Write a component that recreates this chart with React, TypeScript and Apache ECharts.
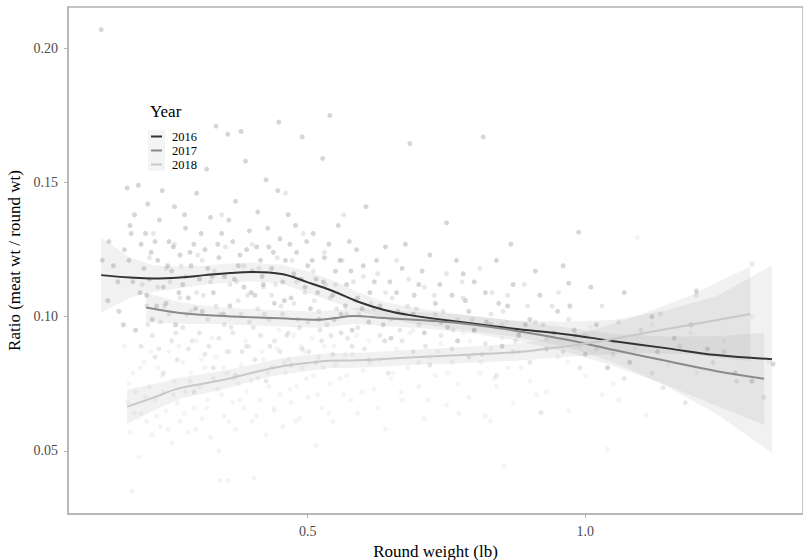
import React, { useEffect, useRef } from "react";
import * as echarts from "echarts";

const years = ["2016", "2017", "2018"];
const lineColors = ["#333333", "#8a8a8a", "#c8c8c8"];
const yTicks = [0.05, 0.1, 0.15, 0.2];
const xTicks = [0.5, 1.0];

// scatter points [round weight, ratio]
const pts2016 = [[0.128,0.207],[0.13,0.121],[0.14,0.106],[0.15,0.119],[0.16,0.102],[0.17,0.125],[0.175,0.148],[0.18,0.134],[0.182,0.131],[0.185,0.113],[0.19,0.095],[0.195,0.149],[0.2,0.127],[0.205,0.118],[0.21,0.108],[0.212,0.142],[0.215,0.114],[0.22,0.099],[0.225,0.128],[0.23,0.121],[0.233,0.136],[0.24,0.111],[0.245,0.105],[0.25,0.128],[0.255,0.117],[0.26,0.141],[0.262,0.097],[0.27,0.123],[0.275,0.112],[0.28,0.133],[0.285,0.107],[0.29,0.119],[0.295,0.127],[0.3,0.146],[0.305,0.114],[0.31,0.102],[0.315,0.125],[0.32,0.118],[0.325,0.137],[0.33,0.109],[0.335,0.171],[0.34,0.122],[0.345,0.131],[0.35,0.115],[0.356,0.168],[0.36,0.104],[0.365,0.128],[0.37,0.143],[0.375,0.119],[0.38,0.169],[0.385,0.111],[0.39,0.125],[0.395,0.132],[0.4,0.117],[0.405,0.108],[0.41,0.139],[0.415,0.121],[0.42,0.112],[0.425,0.151],[0.43,0.126],[0.435,0.118],[0.44,0.105],[0.448,0.1725],[0.45,0.129],[0.455,0.113],[0.46,0.121],[0.465,0.138],[0.47,0.107],[0.475,0.116],[0.48,0.124],[0.49,0.167],[0.495,0.111],[0.5,0.119],[0.505,0.103],[0.51,0.131],[0.515,0.114],[0.52,0.099],[0.527,0.159],[0.53,0.122],[0.54,0.175],[0.545,0.108],[0.55,0.117],[0.555,0.134],[0.56,0.101],[0.57,0.112],[0.575,0.128],[0.58,0.095],[0.59,0.107],[0.6,0.119],[0.605,0.141],[0.61,0.098],[0.62,0.113],[0.63,0.104],[0.64,0.126],[0.65,0.092],[0.66,0.109],[0.67,0.118],[0.684,0.1645],[0.69,0.101],[0.7,0.112],[0.71,0.094],[0.72,0.123],[0.73,0.105],[0.74,0.098],[0.75,0.135],[0.76,0.108],[0.77,0.091],[0.78,0.116],[0.79,0.102],[0.8,0.095],[0.816,0.167],[0.82,0.109],[0.83,0.097],[0.84,0.121],[0.85,0.089],[0.86,0.104],[0.87,0.112],[0.88,0.093],[0.9,0.099],[0.91,0.117],[0.93,0.088],[0.95,0.102],[0.96,0.119],[0.97,0.1125],[0.98,0.095],[0.988,0.1315],[1.0,0.086],[1.02,0.097],[1.05,0.091],[1.08,0.083],[1.12,0.1],[1.16,0.092],[1.2,0.1096],[1.22,0.088],[1.27,0.079],[1.338,0.0824],
[0.142,0.128],[0.158,0.113],[0.168,0.097],[0.178,0.121],[0.188,0.138],[0.198,0.109],[0.208,0.131],[0.218,0.124],[0.228,0.104],[0.238,0.147],[0.248,0.119],[0.258,0.126],[0.268,0.109],[0.278,0.138],[0.288,0.124],[0.298,0.103],[0.308,0.131],[0.318,0.155],[0.328,0.115],[0.338,0.127],[0.348,0.101],[0.358,0.136],[0.368,0.114],[0.378,0.123],[0.388,0.158],[0.398,0.109],[0.408,0.126],[0.418,0.115],[0.428,0.133],[0.438,0.124],[0.446,0.147],[0.458,0.106],[0.468,0.127],[0.478,0.134],[0.488,0.114],[0.498,0.128],[0.508,0.121],[0.518,0.109],[0.528,0.113],[0.538,0.127],[0.548,0.099],[0.558,0.121],[0.568,0.104],[0.578,0.117],[0.588,0.125],[0.598,0.103],[0.612,0.109],[0.624,0.121],[0.636,0.097],[0.648,0.113],[0.662,0.102],[0.676,0.127],[0.692,0.108],[0.706,0.117],[0.722,0.099],[0.738,0.112],[0.752,0.096],[0.768,0.121],[0.784,0.106],[0.8,0.113],[0.822,0.098],[0.844,0.105],[0.866,0.127],[0.892,0.097],[0.918,0.108],[0.944,0.094],[0.972,0.104],[1.01,0.111],[1.04,0.081],[1.07,0.109],[1.13,0.087],[1.19,0.097],[1.3,0.076]];
const pts2017 = [[0.2,0.089],[0.21,0.104],[0.215,0.122],[0.22,0.093],[0.225,0.085],[0.23,0.111],[0.235,0.098],[0.24,0.079],[0.245,0.118],[0.25,0.101],[0.255,0.091],[0.26,0.127],[0.265,0.084],[0.27,0.107],[0.275,0.096],[0.28,0.115],[0.285,0.088],[0.29,0.102],[0.295,0.072],[0.3,0.109],[0.305,0.094],[0.31,0.121],[0.315,0.086],[0.32,0.099],[0.325,0.113],[0.33,0.081],[0.335,0.104],[0.34,0.092],[0.345,0.138],[0.35,0.097],[0.355,0.087],[0.36,0.112],[0.365,0.094],[0.37,0.078],[0.375,0.106],[0.38,0.101],[0.385,0.119],[0.39,0.089],[0.395,0.098],[0.4,0.127],[0.405,0.084],[0.41,0.103],[0.415,0.093],[0.42,0.111],[0.425,0.076],[0.43,0.099],[0.435,0.108],[0.44,0.091],[0.445,0.122],[0.45,0.087],[0.455,0.101],[0.46,0.146],[0.465,0.094],[0.47,0.082],[0.475,0.105],[0.48,0.113],[0.485,0.096],[0.49,0.088],[0.495,0.109],[0.5,0.098],[0.51,0.117],[0.515,0.083],[0.52,0.102],[0.525,0.091],[0.53,0.124],[0.535,0.097],[0.54,0.107],[0.545,0.086],[0.55,0.112],[0.56,0.094],[0.565,0.138],[0.57,0.101],[0.58,0.089],[0.585,0.106],[0.59,0.096],[0.6,0.115],[0.61,0.084],[0.62,0.103],[0.63,0.093],[0.64,0.109],[0.645,0.079],[0.65,0.099],[0.66,0.121],[0.67,0.091],[0.68,0.104],[0.69,0.087],[0.7,0.097],[0.71,0.111],[0.72,0.082],[0.73,0.101],[0.74,0.093],[0.75,0.116],[0.76,0.088],[0.77,0.099],[0.78,0.107],[0.79,0.085],[0.8,0.095],[0.81,0.118],[0.82,0.09],[0.83,0.101],[0.84,0.078],[0.85,0.097],[0.86,0.108],[0.87,0.087],[0.88,0.094],[0.89,0.112],[0.9,0.083],[0.91,0.098],[0.92,0.0643],[0.93,0.092],[0.94,0.104],[0.96,0.087],[0.97,0.099],[0.99,0.081],[1.0,0.093],[1.03,0.104],[1.05,0.086],[1.07,0.077],[1.1,0.095],[1.135,0.101],[1.14,0.0736],[1.17,0.089],[1.2,0.108],[1.23,0.083],[1.273,0.076],[1.3,0.1196],[1.322,0.07],
[0.202,0.112],[0.212,0.097],[0.222,0.131],[0.232,0.088],[0.242,0.104],[0.252,0.113],[0.262,0.094],[0.272,0.119],[0.282,0.101],[0.292,0.091],[0.302,0.123],[0.312,0.108],[0.322,0.089],[0.332,0.117],[0.342,0.101],[0.352,0.126],[0.362,0.096],[0.372,0.113],[0.382,0.087],[0.392,0.108],[0.402,0.096],[0.412,0.118],[0.422,0.101],[0.432,0.089],[0.442,0.112],[0.452,0.104],[0.462,0.093],[0.472,0.121],[0.482,0.099],[0.492,0.131],[0.502,0.087],[0.512,0.106],[0.522,0.095],[0.532,0.112],[0.542,0.093],[0.552,0.103],[0.562,0.121],[0.572,0.092],[0.582,0.113],[0.592,0.101],[0.602,0.088],[0.614,0.105],[0.626,0.116],[0.638,0.091],[0.652,0.107],[0.666,0.095],[0.682,0.114],[0.696,0.103],[0.712,0.089],[0.728,0.108],[0.744,0.102],[0.762,0.095],[0.778,0.113],[0.796,0.099],[0.814,0.086],[0.832,0.109],[0.852,0.102],[0.874,0.091],[0.896,0.104],[0.924,0.097],[0.952,0.109],[0.982,0.093],[1.02,0.088],[1.06,0.098],[1.12,0.079],[1.18,0.068],[1.25,0.087]];
const pts2018 = [[0.17,0.089],[0.175,0.068],[0.18,0.057],[0.184,0.035],[0.185,0.079],[0.19,0.072],[0.196,0.0477],[0.2,0.064],[0.205,0.083],[0.21,0.061],[0.215,0.074],[0.22,0.056],[0.225,0.069],[0.23,0.081],[0.235,0.059],[0.24,0.072],[0.245,0.065],[0.25,0.087],[0.255,0.053],[0.26,0.076],[0.265,0.068],[0.27,0.061],[0.275,0.083],[0.28,0.072],[0.285,0.057],[0.29,0.079],[0.295,0.066],[0.3,0.091],[0.305,0.074],[0.31,0.062],[0.315,0.081],[0.32,0.069],[0.325,0.055],[0.33,0.077],[0.335,0.085],[0.34,0.05],[0.342,0.039],[0.345,0.071],[0.35,0.063],[0.355,0.079],[0.356,0.039],[0.36,0.087],[0.365,0.068],[0.37,0.058],[0.375,0.075],[0.38,0.082],[0.385,0.066],[0.39,0.072],[0.395,0.089],[0.4,0.061],[0.404,0.04],[0.41,0.077],[0.415,0.069],[0.42,0.084],[0.425,0.056],[0.43,0.074],[0.435,0.081],[0.44,0.065],[0.445,0.088],[0.45,0.071],[0.455,0.059],[0.46,0.079],[0.465,0.084],[0.47,0.068],[0.475,0.093],[0.48,0.074],[0.485,0.062],[0.49,0.081],[0.495,0.087],[0.5,0.07],[0.51,0.078],[0.515,0.052],[0.52,0.085],[0.525,0.066],[0.53,0.089],[0.54,0.075],[0.545,0.061],[0.55,0.082],[0.56,0.094],[0.565,0.071],[0.57,0.078],[0.58,0.086],[0.59,0.064],[0.6,0.08],[0.61,0.091],[0.62,0.073],[0.63,0.084],[0.64,0.058],[0.65,0.077],[0.66,0.088],[0.67,0.069],[0.68,0.081],[0.69,0.095],[0.7,0.074],[0.71,0.062],[0.72,0.085],[0.73,0.078],[0.74,0.09],[0.75,0.067],[0.76,0.083],[0.77,0.075],[0.78,0.094],[0.79,0.07],[0.8,0.086],[0.81,0.079],[0.82,0.063],[0.829,0.0611],[0.83,0.088],[0.84,0.074],[0.85,0.092],[0.854,0.0444],[0.86,0.081],[0.87,0.068],[0.88,0.087],[0.9,0.076],[0.91,0.094],[0.93,0.072],[0.95,0.085],[0.97,0.065],[0.99,0.089],[1.0,0.078],[1.03,0.071],[1.04,0.0507],[1.06,0.069],[1.09,0.088],[1.094,0.1295],[1.11,0.0634],[1.15,0.082],[1.19,0.094],[1.25,0.091],[1.3,0.1],[1.33,0.083],
[0.178,0.075],[0.188,0.064],[0.198,0.081],[0.208,0.07],[0.218,0.087],[0.228,0.063],[0.238,0.078],[0.248,0.058],[0.258,0.071],[0.268,0.089],[0.278,0.064],[0.288,0.076],[0.298,0.058],[0.308,0.084],[0.318,0.066],[0.328,0.092],[0.338,0.073],[0.348,0.081],[0.358,0.061],[0.368,0.077],[0.378,0.069],[0.388,0.091],[0.398,0.076],[0.408,0.063],[0.418,0.087],[0.428,0.079],[0.438,0.066],[0.448,0.095],[0.458,0.083],[0.468,0.073],[0.478,0.061],[0.488,0.089],[0.498,0.077],[0.508,0.092],[0.518,0.071],[0.528,0.081],[0.538,0.064],[0.548,0.089],[0.558,0.077],[0.568,0.086],[0.578,0.069],[0.588,0.093],[0.598,0.072],[0.612,0.083],[0.626,0.066],[0.64,0.091],[0.654,0.079],[0.668,0.072],[0.684,0.094],[0.7,0.083],[0.716,0.069],[0.734,0.087],[0.752,0.079],[0.772,0.064],[0.792,0.091],[0.812,0.083],[0.836,0.077],[0.858,0.098],[0.884,0.081],[0.912,0.071],[0.94,0.093],[0.968,0.083],[1.01,0.096],[1.05,0.075],[1.12,0.097],[1.2,0.079]];

// smoothed fits (loess) and confidence half-widths
const fitX2016 = [0.128,0.18,0.222,0.27,0.315,0.36,0.398,0.453,0.499,0.545,0.591,0.638,0.684,0.776,0.868,0.96,1.052,1.145,1.237,1.336];
const fitY2016 = [0.1155,0.1146,0.1142,0.1146,0.1155,0.1163,0.1167,0.1159,0.1129,0.1096,0.1056,0.1025,0.1006,0.098,0.0956,0.0936,0.0909,0.0883,0.0857,0.0842];
const half2016 = [0.0138,0.0075,0.005,0.004,0.0035,0.0035,0.0035,0.0035,0.004,0.004,0.0035,0.003,0.003,0.0028,0.003,0.0045,0.008,0.014,0.022,0.035];

const fitX2017 = [0.209,0.27,0.33,0.39,0.45,0.518,0.55,0.582,0.638,0.7,0.776,0.868,0.96,1.052,1.145,1.237,1.322];
const fitY2017 = [0.1034,0.1014,0.1005,0.0999,0.0994,0.0989,0.0995,0.1003,0.0995,0.0988,0.0976,0.095,0.0917,0.0876,0.0836,0.0797,0.0769];
const half2017 = [0.0055,0.004,0.0032,0.003,0.003,0.003,0.003,0.003,0.003,0.003,0.0032,0.0036,0.0045,0.006,0.009,0.013,0.0172];

const fitX2018 = [0.175,0.22,0.27,0.347,0.4,0.45,0.5,0.54,0.591,0.684,0.776,0.868,0.914,1.007,1.098,1.19,1.297];
const fitY2018 = [0.0665,0.0697,0.0734,0.0764,0.0791,0.0814,0.0828,0.0836,0.0838,0.0848,0.0857,0.0867,0.0876,0.0902,0.0936,0.097,0.101];
const half2018 = [0.0065,0.005,0.004,0.0035,0.003,0.003,0.003,0.0028,0.0028,0.0028,0.003,0.0032,0.0034,0.0045,0.007,0.011,0.0177];

const FONT = "Liberation Serif";
const BAND_FILL = "rgba(150,150,150,0.13)";

export default function App() {
  const ref = useRef<HTMLDivElement>(null);
  useEffect(() => {
    if (!ref.current) return;
    const chart = echarts.init(ref.current, undefined, { renderer: "svg" });
    const pts = [pts2016, pts2017, pts2018];
    const fx = [fitX2016, fitX2017, fitX2018];
    const fy = [fitY2016, fitY2017, fitY2018];
    const fh = [half2016, half2017, half2018];
    const series: any[] = [];
    years.forEach((yr, i) => {
      series.push({
        name: "pts" + yr,
        type: "scatter",
        data: pts[i],
        symbolSize: 5,
        itemStyle: { color: lineColors[i], opacity: 0.2 },
        z: 1,
        silent: true,
      });
    });
    years.forEach((yr, i) => {
      const rows = fx[i].map((x, k) => [x, fy[i][k] - fh[i][k], fy[i][k] + fh[i][k]]);
      series.push({
        name: "band" + yr,
        type: "custom",
        data: rows,
        encode: { x: 0, y: [1, 2] },
        z: 2,
        silent: true,
        clip: true,
        renderItem: (params: any, api: any) => {
          if (params.dataIndex !== 0) return null;
          const up = rows.map((r) => api.coord([r[0], r[2]]));
          const lo = rows.map((r) => api.coord([r[0], r[1]])).reverse();
          return {
            type: "polygon",
            shape: { points: up.concat(lo) },
            style: { fill: BAND_FILL },
          };
        },
      });
    });
    years.forEach((yr, i) => {
      series.push({
        name: yr,
        type: "line",
        data: fx[i].map((x, k) => [x, fy[i][k]]),
        symbol: "none",
        smooth: 0.4,
        lineStyle: { color: lineColors[i], width: 2 },
        itemStyle: { color: lineColors[i] },
        z: 3,
      });
    });

    const legendGraphics: any[] = [
      {
        type: "text",
        left: 150,
        top: 103,
        style: { text: "Year", font: "17px 'Liberation Serif'", fill: "#000000" },
        z: 10,
      },
      {
        type: "rect",
        shape: { x: 148, y: 130, width: 17, height: 41 },
        style: { fill: "rgba(150,150,150,0.10)" },
        z: 9,
      },
    ];
    years.forEach((yr, i) => {
      const cy = 136.5 + i * 14;
      legendGraphics.push({
        type: "line",
        shape: { x1: 151, y1: cy, x2: 162, y2: cy },
        style: { stroke: lineColors[i], lineWidth: 2 },
        z: 10,
      });
      legendGraphics.push({
        type: "text",
        x: 172,
        y: cy,
        style: {
          text: yr,
          font: "12.5px 'Liberation Serif'",
          fill: "#000000",
          verticalAlign: "middle",
        },
        z: 10,
      });
    });

    chart.setOption({
      animation: false,
      backgroundColor: "#ffffff",
      textStyle: { fontFamily: FONT },
      grid: {
        left: 68,
        top: 7,
        right: 0,
        bottom: 46,
        outerBoundsMode: "none",
        containLabel: false,
        show: true,
        borderColor: "#b3b3b3",
        borderWidth: 1.5,
      },
      xAxis: {
        type: "value",
        min: 0.0683,
        max: 1.392,
        name: "Round weight (lb)",
        nameLocation: "middle",
        nameGap: 28,
        nameTextStyle: { fontFamily: FONT, fontSize: 17, color: "#000000" },
        axisLine: { show: true, lineStyle: { color: "#b3b3b3", width: 1.5 } },
        axisTick: { show: true, length: 4, customValues: xTicks, lineStyle: { color: "#b3b3b3" } },
        axisLabel: {
          customValues: xTicks,
          formatter: (v: number) => v.toFixed(1),
          fontFamily: FONT,
          fontSize: 14,
          color: "#4d4d4d",
          margin: 10,
        },
        splitLine: { show: false },
      },
      yAxis: {
        type: "value",
        min: 0.0265,
        max: 0.2154,
        name: "Ratio (meat wt / round wt)",
        nameLocation: "middle",
        nameGap: 45,
        nameTextStyle: { fontFamily: FONT, fontSize: 17, color: "#000000" },
        axisLine: { show: true, lineStyle: { color: "#b3b3b3", width: 1.5 } },
        axisTick: { show: true, length: 4, customValues: yTicks, lineStyle: { color: "#b3b3b3" } },
        axisLabel: {
          customValues: yTicks,
          formatter: (v: number) => v.toFixed(2),
          fontFamily: FONT,
          fontSize: 14,
          color: "#4d4d4d",
          margin: 10,
        },
        splitLine: { show: false },
      },
      graphic: legendGraphics,
      series,
    });
    return () => chart.dispose();
  }, []);
  return (
    <div
      ref={ref}
      style={{ position: "fixed", left: 0, top: 0, width: 803, height: 560 }}
    />
  );
}
